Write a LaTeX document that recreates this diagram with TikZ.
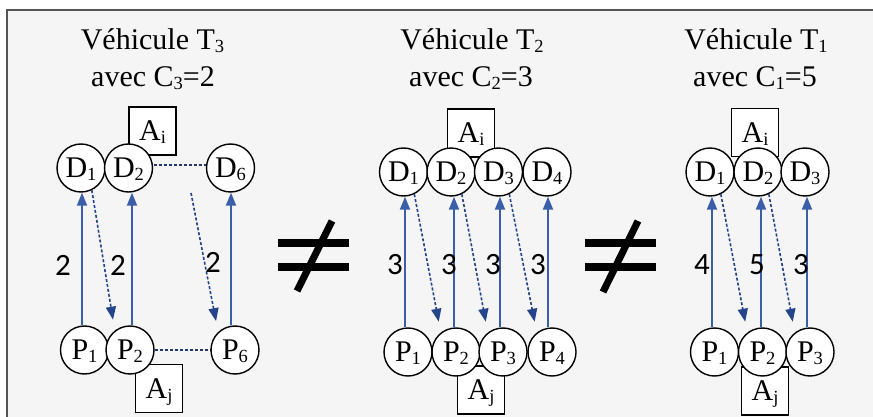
\documentclass[tikz,border=0pt]{standalone}
\usepackage{fontspec}
\setmainfont{Liberation Serif}
\newfontfamily\lblfont{Carlito}
\usetikzlibrary{arrows.meta,calc}
\definecolor{bgc}{RGB}{245,245,245}
\definecolor{framec}{RGB}{85,85,85}
\definecolor{solidblue}{RGB}{59,94,168}
\definecolor{dotblue}{RGB}{36,68,140}
\definecolor{navyc}{RGB}{31,56,110}
\newcommand\sbs[1]{\raisebox{-3pt}{\fontsize{18.5}{18.5}\selectfont #1}}
\begin{document}
\begin{tikzpicture}[x=1pt,y=-1pt,
  circ/.style={circle,draw,fill=white,line width=1.4pt,minimum size=48pt,inner sep=0pt,font=\fontsize{30}{31}\selectfont,text depth=0pt},
  abox/.style={rectangle,draw,fill=white,line width=1.4pt,minimum width=47pt,minimum height=48pt,inner sep=0pt,font=\fontsize{30}{31}\selectfont,text depth=0pt},
  ttl/.style={anchor=base,font=\fontsize{30}{31}\selectfont,inner sep=0pt},
  uparr/.style={draw=solidblue,line width=2pt,-{Triangle[length=13pt,width=10pt]}},
  dotarr/.style={draw=dotblue,line width=1.6pt,dash pattern=on 3pt off 2pt,-{Triangle[length=13pt,width=10pt]},shorten >=11pt},
  hdot/.style={draw=navyc,line width=1.6pt,dash pattern=on 3pt off 2pt},
  lbl/.style={font=\lblfont\fontsize{31}{31}\selectfont,inner sep=0pt},
  neqbar/.style={line width=8pt},
  neqslash/.style={line width=7pt}]
\useasboundingbox (0,0) rectangle (873,417);
\fill[white] (0,0) rectangle (873,417);
\fill[bgc] (7,10) rectangle (873,417);
\draw[framec,line width=2pt] (7,417) -- (7,10) -- (873,10);

% titles
\node[ttl] (L-t1) at (152.5,50) {Véhicule T\sbs{3}};
\node[ttl] (L-t2) at (153,87) {avec C\sbs{3}=2};
\node[ttl] (M-t1) at (472,50) {Véhicule T\sbs{2}};
\node[ttl] (M-t2) at (471,87) {avec C\sbs{2}=3};
\node[ttl] (R-t1) at (756,50) {Véhicule T\sbs{1}};
\node[ttl] (R-t2) at (755,87) {avec C\sbs{1}=5};

% boxes
\node[abox] (L-Ai) at (152.5,131) {A\sbs{i}};
\node[abox] (L-Aj) at (159,388.5) {A\sbs{j}};
\node[abox] (M-Ai) at (471,133) {A\sbs{i}};
\node[abox] (M-Aj) at (481,390) {A\sbs{j}};
\node[abox] (R-Ai) at (755,132.5) {A\sbs{i}};
\node[abox] (R-Aj) at (765,391) {A\sbs{j}};

% left group
\draw[hdot] (128.5,165) coordinate (L-h1) -- (230.5,165) coordinate (L-h2);
\draw[hdot] (130,350) coordinate (L-h3) -- (235,350) coordinate (L-h4);
\node[circ] (L-D1) at (81,168) {D\sbs{1}};
\node[circ] (L-D2) at (128.5,168) {D\sbs{2}};
\node[circ] (L-D6) at (230.5,168) {D\sbs{6}};
\node[circ] (L-P1) at (84.5,350) {P\sbs{1}};
\node[circ] (L-P2) at (130,350) {P\sbs{2}};
\node[circ] (L-P6) at (235,350) {P\sbs{6}};

% middle group
\node[circ] (M-D1) at (403.5,172) {D\sbs{1}};
\node[circ] (M-D2) at (451,172) {D\sbs{2}};
\node[circ] (M-D3) at (498.5,172) {D\sbs{3}};
\node[circ] (M-D4) at (547,172) {D\sbs{4}};
\node[circ] (M-P1) at (408,352) {P\sbs{1}};
\node[circ] (M-P2) at (456,352) {P\sbs{2}};
\node[circ] (M-P3) at (503,352) {P\sbs{3}};
\node[circ] (M-P4) at (552,352) {P\sbs{4}};

% right group
\node[circ] (R-D1) at (710,172) {D\sbs{1}};
\node[circ] (R-D2) at (758,172) {D\sbs{2}};
\node[circ] (R-D3) at (805,172) {D\sbs{3}};
\node[circ] (R-P1) at (714.5,352) {P\sbs{1}};
\node[circ] (R-P2) at (762.5,352) {P\sbs{2}};
\node[circ] (R-P3) at (810,352) {P\sbs{3}};

% solid arrows P -> D
\foreach \g/\k/\x in {L/1/82,L/2/132,L/6/231,M/1/405,M/2/454,M/3/500,M/4/548,R/1/712,R/2/761,R/3/807} {
  \coordinate (\g-m\k) at (\x,0);
  \draw[uparr] (\g-m\k |- \g-P\k.north) -- (\g-m\k |- \g-D\k.south);
}

% dotted arrows D -> P
\coordinate (L-x5) at (191,193);
\draw[dotarr] (L-D1.-64) -- (L-P2.128);
\draw[dotarr] (L-x5) -- (L-P6.133);
\draw[dotarr] (M-D1.-64) -- (M-P2.128);
\draw[dotarr] (M-D2.-64) -- (M-P3.128);
\draw[dotarr] (M-D3.-64) -- (M-P4.128);
\draw[dotarr] (R-D1.-64) -- (R-P2.128);
\draw[dotarr] (R-D2.-64) -- (R-P3.128);

% labels
\node[lbl] (L-l1) at (63,265) {2};
\node[lbl] (L-l2) at (118,265) {2};
\node[lbl] (L-l6) at (213,262) {2};
\node[lbl] (M-l1) at (395,265) {3};
\node[lbl] (M-l2) at (449,265) {3};
\node[lbl] (M-l3) at (493,265) {3};
\node[lbl] (M-l4) at (538,265) {3};
\node[lbl] (R-l1) at (702,265) {4};
\node[lbl] (R-l2) at (757,265) {5};
\node[lbl] (R-l3) at (801,265) {3};

% not-equal signs
\draw[neqbar] (278,243) -- (349,243);
\draw[neqbar] (278,267) -- (349,267);
\draw[neqslash] (332,221) -- (297,291);
\draw[neqbar] (585,243) -- (656,243);
\draw[neqbar] (585,267) -- (656,267);
\draw[neqslash] (638,221) -- (603,292);
\end{tikzpicture}
\end{document}
